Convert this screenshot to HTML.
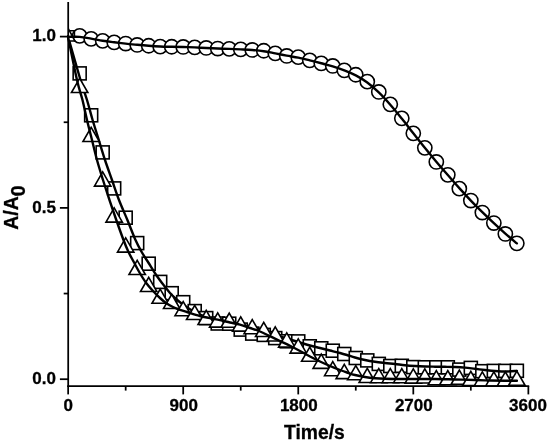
<!DOCTYPE html>
<html><head><meta charset="utf-8"><title>Time/s</title>
<style>html,body{margin:0;padding:0;background:#fff}svg{display:block}</style></head>
<body>
<svg width="550" height="444" viewBox="0 0 550 444">
<rect width="550" height="444" fill="#fff"/>
<defs><clipPath id="c"><rect x="68.15" y="0" width="482" height="400"/></clipPath></defs>
<g clip-path="url(#c)" fill="#fff" stroke="#000" stroke-width="1.60">
<circle cx="79.66" cy="35.85" r="7.10"/>
<circle cx="91.16" cy="38.85" r="7.10"/>
<circle cx="102.67" cy="40.85" r="7.10"/>
<circle cx="114.17" cy="42.35" r="7.10"/>
<circle cx="125.68" cy="43.55" r="7.10"/>
<circle cx="137.18" cy="44.95" r="7.10"/>
<circle cx="148.69" cy="45.75" r="7.10"/>
<circle cx="160.19" cy="46.65" r="7.10"/>
<circle cx="171.69" cy="46.75" r="7.10"/>
<circle cx="183.20" cy="46.95" r="7.10"/>
<circle cx="194.71" cy="47.35" r="7.10"/>
<circle cx="206.21" cy="47.95" r="7.10"/>
<circle cx="217.72" cy="48.55" r="7.10"/>
<circle cx="229.22" cy="48.85" r="7.10"/>
<circle cx="240.73" cy="49.35" r="7.10"/>
<circle cx="252.23" cy="49.95" r="7.10"/>
<circle cx="263.74" cy="50.75" r="7.10"/>
<circle cx="275.24" cy="53.35" r="7.10"/>
<circle cx="286.75" cy="55.95" r="7.10"/>
<circle cx="298.25" cy="57.15" r="7.10"/>
<circle cx="309.75" cy="60.35" r="7.10"/>
<circle cx="321.26" cy="63.35" r="7.10"/>
<circle cx="332.76" cy="65.95" r="7.10"/>
<circle cx="344.27" cy="70.35" r="7.10"/>
<circle cx="355.77" cy="74.75" r="7.10"/>
<circle cx="367.28" cy="81.65" r="7.10"/>
<circle cx="378.79" cy="91.95" r="7.10"/>
<circle cx="390.29" cy="104.35" r="7.10"/>
<circle cx="401.80" cy="118.35" r="7.10"/>
<circle cx="413.30" cy="133.35" r="7.10"/>
<circle cx="424.81" cy="147.85" r="7.10"/>
<circle cx="436.31" cy="161.95" r="7.10"/>
<circle cx="447.82" cy="174.85" r="7.10"/>
<circle cx="459.32" cy="188.65" r="7.10"/>
<circle cx="470.83" cy="200.55" r="7.10"/>
<circle cx="482.33" cy="212.55" r="7.10"/>
<circle cx="493.84" cy="223.05" r="7.10"/>
<circle cx="505.34" cy="233.95" r="7.10"/>
<circle cx="516.85" cy="243.35" r="7.10"/>
</g>
<g clip-path="url(#c)" fill="#fff" stroke="#000" stroke-width="1.60">
<path d="M68.15 30.7 H74.4 V36.5" fill="none"/>
<rect x="73.16" y="66.90" width="13.00" height="13.00"/>
<rect x="84.66" y="108.80" width="13.00" height="13.00"/>
<rect x="96.17" y="145.90" width="13.00" height="13.00"/>
<rect x="107.67" y="181.90" width="13.00" height="13.00"/>
<rect x="119.18" y="211.20" width="13.00" height="13.00"/>
<rect x="130.68" y="236.60" width="13.00" height="13.00"/>
<rect x="142.19" y="257.20" width="13.00" height="13.00"/>
<rect x="153.69" y="275.40" width="13.00" height="13.00"/>
<rect x="165.19" y="286.70" width="13.00" height="13.00"/>
<rect x="176.70" y="295.70" width="13.00" height="13.00"/>
<rect x="188.21" y="304.60" width="13.00" height="13.00"/>
<rect x="199.71" y="311.60" width="13.00" height="13.00"/>
<rect x="211.22" y="317.00" width="13.00" height="13.00"/>
<rect x="222.72" y="317.20" width="13.00" height="13.00"/>
<rect x="234.23" y="323.10" width="13.00" height="13.00"/>
<rect x="245.73" y="327.10" width="13.00" height="13.00"/>
<rect x="257.24" y="328.40" width="13.00" height="13.00"/>
<rect x="268.74" y="331.60" width="13.00" height="13.00"/>
<rect x="280.25" y="334.80" width="13.00" height="13.00"/>
<rect x="291.75" y="334.90" width="13.00" height="13.00"/>
<rect x="303.25" y="339.80" width="13.00" height="13.00"/>
<rect x="314.76" y="341.80" width="13.00" height="13.00"/>
<rect x="326.26" y="344.20" width="13.00" height="13.00"/>
<rect x="337.77" y="347.50" width="13.00" height="13.00"/>
<rect x="349.27" y="351.50" width="13.00" height="13.00"/>
<rect x="360.78" y="353.90" width="13.00" height="13.00"/>
<rect x="372.29" y="357.40" width="13.00" height="13.00"/>
<rect x="383.79" y="359.50" width="13.00" height="13.00"/>
<rect x="395.30" y="359.30" width="13.00" height="13.00"/>
<rect x="406.80" y="360.60" width="13.00" height="13.00"/>
<rect x="418.31" y="360.80" width="13.00" height="13.00"/>
<rect x="429.81" y="360.80" width="13.00" height="13.00"/>
<rect x="441.32" y="360.80" width="13.00" height="13.00"/>
<rect x="452.82" y="363.10" width="13.00" height="13.00"/>
<rect x="464.33" y="361.40" width="13.00" height="13.00"/>
<rect x="475.83" y="364.70" width="13.00" height="13.00"/>
<rect x="487.34" y="364.40" width="13.00" height="13.00"/>
<rect x="498.84" y="364.40" width="13.00" height="13.00"/>
<rect x="510.35" y="364.30" width="13.00" height="13.00"/>
</g>
<g fill="none" stroke="#000" stroke-width="2.40" stroke-linejoin="round" stroke-linecap="round"><path d="M68.00 36.50 C70.08 43.75 77.33 69.42 80.50 80.00 C83.67 90.58 84.98 93.33 87.00 100.00 C89.02 106.67 90.63 113.33 92.60 120.00 C94.57 126.67 96.73 133.33 98.80 140.00 C100.87 146.67 102.80 153.33 105.00 160.00 C107.20 166.67 109.67 173.33 112.00 180.00 C114.33 186.67 116.43 193.33 119.00 200.00 C121.57 206.67 124.65 213.33 127.40 220.00 C130.15 226.67 133.17 234.75 135.50 240.00 C137.83 245.25 139.27 247.75 141.40 251.50 C143.53 255.25 145.95 258.75 148.30 262.50 C150.65 266.25 153.22 270.58 155.50 274.00 C157.78 277.42 160.42 280.87 162.00 283.00 C163.58 285.13 163.67 285.13 165.00 286.80 C166.33 288.47 168.33 291.13 170.00 293.00 C171.67 294.87 173.33 296.45 175.00 298.00 C176.67 299.55 178.33 300.97 180.00 302.30 C181.67 303.63 183.33 304.83 185.00 306.00 C186.67 307.17 188.33 308.30 190.00 309.30 C191.67 310.30 193.33 311.13 195.00 312.00 C196.67 312.87 197.50 313.53 200.00 314.50 C202.50 315.47 206.67 316.85 210.00 317.80 C213.33 318.75 216.67 319.42 220.00 320.20 C223.33 320.98 226.67 321.75 230.00 322.50 C233.33 323.25 236.67 323.87 240.00 324.70 C243.33 325.53 246.67 326.53 250.00 327.50 C253.33 328.47 256.67 329.50 260.00 330.50 C263.33 331.50 266.67 332.50 270.00 333.50 C273.33 334.50 276.67 335.50 280.00 336.50 C283.33 337.50 286.67 338.50 290.00 339.50 C293.33 340.50 296.67 341.50 300.00 342.50 C303.33 343.50 306.67 344.58 310.00 345.50 C313.33 346.42 316.67 347.17 320.00 348.00 C323.33 348.83 326.67 349.67 330.00 350.50 C333.33 351.33 337.17 352.25 340.00 353.00 C342.83 353.75 344.50 354.25 347.00 355.00 C349.50 355.75 352.00 356.67 355.00 357.50 C358.00 358.33 361.67 359.28 365.00 360.00 C368.33 360.72 371.67 361.30 375.00 361.80 C378.33 362.30 381.67 362.63 385.00 363.00 C388.33 363.37 391.67 363.63 395.00 364.00 C398.33 364.37 401.67 364.87 405.00 365.20 C408.33 365.53 411.67 365.78 415.00 366.00 C418.33 366.22 421.67 366.38 425.00 366.50 C428.33 366.62 431.67 366.65 435.00 366.70 C438.33 366.75 441.67 366.75 445.00 366.80 C448.33 366.85 451.67 366.87 455.00 367.00 C458.33 367.13 461.67 367.30 465.00 367.60 C468.33 367.90 471.67 368.40 475.00 368.80 C478.33 369.20 481.67 369.63 485.00 370.00 C488.33 370.37 491.33 370.75 495.00 371.00 C498.67 371.25 503.35 371.52 507.00 371.50 C510.65 371.48 515.25 371.00 516.90 370.90"/></g>
<g clip-path="url(#c)" fill="#fff" stroke="#000" stroke-width="1.60">
<path d="M61.35 41.0 L74.95 41.0 L68.15 28.4 Z"/>
<path d="M71.45 92.50 L87.86 92.50 L79.66 78.30 Z"/>
<path d="M82.96 141.50 L99.36 141.50 L91.16 127.30 Z"/>
<path d="M94.47 186.10 L110.87 186.10 L102.67 171.90 Z"/>
<path d="M105.97 222.10 L122.37 222.10 L114.17 207.90 Z"/>
<path d="M117.48 252.10 L133.88 252.10 L125.68 237.90 Z"/>
<path d="M128.98 274.50 L145.38 274.50 L137.18 260.30 Z"/>
<path d="M140.49 291.50 L156.88 291.50 L148.69 277.30 Z"/>
<path d="M151.99 303.30 L168.39 303.30 L160.19 289.10 Z"/>
<path d="M163.50 308.50 L179.89 308.50 L171.69 294.30 Z"/>
<path d="M175.00 315.70 L191.40 315.70 L183.20 301.50 Z"/>
<path d="M186.51 319.50 L202.91 319.50 L194.71 305.30 Z"/>
<path d="M198.01 324.50 L214.41 324.50 L206.21 310.30 Z"/>
<path d="M209.52 327.10 L225.91 327.10 L217.72 312.90 Z"/>
<path d="M221.02 327.30 L237.42 327.30 L229.22 313.10 Z"/>
<path d="M232.53 331.10 L248.93 331.10 L240.73 316.90 Z"/>
<path d="M244.03 333.70 L260.43 333.70 L252.23 319.50 Z"/>
<path d="M255.54 336.50 L271.94 336.50 L263.74 322.30 Z"/>
<path d="M267.04 341.00 L283.44 341.00 L275.24 326.80 Z"/>
<path d="M278.55 347.10 L294.94 347.10 L286.75 332.90 Z"/>
<path d="M290.05 353.10 L306.45 353.10 L298.25 338.90 Z"/>
<path d="M301.56 361.30 L317.95 361.30 L309.75 347.10 Z"/>
<path d="M313.06 368.40 L329.46 368.40 L321.26 354.20 Z"/>
<path d="M324.56 375.70 L340.96 375.70 L332.76 361.50 Z"/>
<path d="M336.07 378.60 L352.47 378.60 L344.27 364.40 Z"/>
<path d="M347.57 379.70 L363.97 379.70 L355.77 365.50 Z"/>
<path d="M359.08 382.50 L375.48 382.50 L367.28 368.30 Z"/>
<path d="M370.59 382.70 L386.99 382.70 L378.79 368.50 Z"/>
<path d="M382.09 382.70 L398.49 382.70 L390.29 368.50 Z"/>
<path d="M393.60 382.70 L410.00 382.70 L401.80 368.50 Z"/>
<path d="M405.10 383.10 L421.50 383.10 L413.30 368.90 Z"/>
<path d="M416.61 383.00 L433.01 383.00 L424.81 368.80 Z"/>
<path d="M428.11 384.80 L444.51 384.80 L436.31 370.60 Z"/>
<path d="M439.62 384.80 L456.02 384.80 L447.82 370.60 Z"/>
<path d="M451.12 384.30 L467.52 384.30 L459.32 370.10 Z"/>
<path d="M462.63 385.50 L479.03 385.50 L470.83 371.30 Z"/>
<path d="M474.13 386.10 L490.53 386.10 L482.33 371.90 Z"/>
<path d="M485.64 386.10 L502.04 386.10 L493.84 371.90 Z"/>
<path d="M497.14 386.10 L513.54 386.10 L505.34 371.90 Z"/>
<path d="M508.65 385.30 L525.05 385.30 L516.85 371.10 Z"/>
</g>
<g fill="none" stroke="#000" stroke-width="2.40" stroke-linejoin="round" stroke-linecap="round"><path d="M68.00 36.50 C69.50 43.75 74.58 69.42 77.00 80.00 C79.42 90.58 80.83 93.33 82.50 100.00 C84.17 106.67 85.42 113.33 87.00 120.00 C88.58 126.67 90.33 133.33 92.00 140.00 C93.67 146.67 95.17 153.33 97.00 160.00 C98.83 166.67 100.92 173.33 103.00 180.00 C105.08 186.67 107.28 193.33 109.50 200.00 C111.72 206.67 113.97 213.33 116.30 220.00 C118.63 226.67 121.47 234.67 123.50 240.00 C125.53 245.33 126.78 248.33 128.50 252.00 C130.22 255.67 131.92 258.50 133.80 262.00 C135.68 265.50 137.73 269.50 139.80 273.00 C141.87 276.50 144.00 280.00 146.20 283.00 C148.40 286.00 150.70 288.50 153.00 291.00 C155.30 293.50 157.83 296.00 160.00 298.00 C162.17 300.00 163.83 301.50 166.00 303.00 C168.17 304.50 170.67 305.87 173.00 307.00 C175.33 308.13 177.67 308.97 180.00 309.80 C182.33 310.63 184.50 311.20 187.00 312.00 C189.50 312.80 192.83 313.93 195.00 314.60 C197.17 315.27 197.50 315.40 200.00 316.00 C202.50 316.60 206.67 317.50 210.00 318.20 C213.33 318.90 216.67 319.48 220.00 320.20 C223.33 320.92 226.67 321.75 230.00 322.50 C233.33 323.25 236.67 323.78 240.00 324.70 C243.33 325.62 246.67 326.87 250.00 328.00 C253.33 329.13 256.67 330.13 260.00 331.50 C263.33 332.87 266.67 334.62 270.00 336.20 C273.33 337.78 276.67 339.40 280.00 341.00 C283.33 342.60 286.67 344.13 290.00 345.80 C293.33 347.47 296.67 349.22 300.00 351.00 C303.33 352.78 306.67 354.75 310.00 356.50 C313.33 358.25 316.67 359.92 320.00 361.50 C323.33 363.08 326.67 364.58 330.00 366.00 C333.33 367.42 337.17 368.92 340.00 370.00 C342.83 371.08 344.50 371.67 347.00 372.50 C349.50 373.33 352.00 374.25 355.00 375.00 C358.00 375.75 361.67 376.47 365.00 377.00 C368.33 377.53 371.67 377.90 375.00 378.20 C378.33 378.50 380.83 378.67 385.00 378.80 C389.17 378.93 394.17 378.97 400.00 379.00 C405.83 379.03 414.17 379.00 420.00 379.00 C425.83 379.00 429.17 378.92 435.00 379.00 C440.83 379.08 448.33 379.33 455.00 379.50 C461.67 379.67 469.17 379.83 475.00 380.00 C480.83 380.17 485.00 380.38 490.00 380.50 C495.00 380.62 500.52 380.67 505.00 380.70 C509.48 380.73 514.92 380.70 516.90 380.70"/></g>
<g fill="none" stroke="#000" stroke-width="2.40" stroke-linejoin="round" stroke-linecap="round"><path d="M68.15 36.85 C70.07 36.85 75.82 36.56 79.66 36.85 C83.49 37.14 87.33 37.95 91.16 38.60 C95.00 39.25 98.83 40.11 102.67 40.73 C106.50 41.34 110.34 41.80 114.17 42.28 C118.01 42.75 121.84 43.18 125.68 43.60 C129.51 44.02 133.34 44.44 137.18 44.80 C141.02 45.16 144.85 45.50 148.69 45.77 C152.52 46.05 156.35 46.28 160.19 46.45 C164.03 46.62 167.86 46.68 171.69 46.78 C175.53 46.87 179.37 46.90 183.20 47.00 C187.04 47.10 190.87 47.24 194.71 47.40 C198.54 47.56 202.38 47.77 206.21 47.95 C210.05 48.13 213.88 48.32 217.72 48.48 C221.55 48.63 225.39 48.75 229.22 48.90 C233.06 49.05 236.89 49.19 240.73 49.38 C244.56 49.56 248.40 49.70 252.23 50.00 C256.06 50.30 259.90 50.64 263.74 51.20 C267.57 51.76 271.41 52.62 275.24 53.35 C279.07 54.08 282.91 54.88 286.75 55.60 C290.58 56.32 294.42 56.87 298.25 57.65 C302.08 58.43 305.92 59.37 309.75 60.30 C313.59 61.23 317.43 62.23 321.26 63.25 C325.09 64.27 328.93 65.22 332.76 66.40 C336.60 67.58 340.44 68.85 344.27 70.35 C348.10 71.85 351.94 73.35 355.77 75.38 C359.61 77.40 363.44 79.65 367.28 82.50 C371.12 85.35 374.95 88.77 378.79 92.47 C382.62 96.18 386.46 100.40 390.29 104.75 C394.13 109.10 397.96 113.85 401.80 118.60 C405.63 123.35 409.47 128.37 413.30 133.22 C417.14 138.08 420.97 143.01 424.81 147.75 C428.64 152.49 432.48 157.10 436.31 161.65 C440.15 166.20 443.98 170.65 447.82 175.07 C451.65 179.50 455.49 183.92 459.32 188.17 C463.16 192.42 466.99 196.57 470.83 200.57 C474.66 204.57 478.50 208.41 482.33 212.17 C486.17 215.94 490.00 219.58 493.84 223.15 C497.67 226.72 501.51 230.21 505.34 233.57 C509.18 236.94 514.93 241.72 516.85 243.35"/></g>
<g stroke="#000" stroke-width="1.75" fill="none">
<path d="M68.2 2 V387.1"/>
<path d="M67.2 386.1 H529.2"/>
<path d="M59.9 379.20 H68.2"/>
<path d="M63.7 293.55 H68.2"/>
<path d="M59.9 207.90 H68.2"/>
<path d="M63.7 122.25 H68.2"/>
<path d="M59.9 36.60 H68.2"/>
<path d="M68.15 386.1 V394.4"/>
<path d="M125.68 386.1 V390.6"/>
<path d="M183.20 386.1 V394.4"/>
<path d="M240.73 386.1 V390.6"/>
<path d="M298.25 386.1 V394.4"/>
<path d="M355.77 386.1 V390.6"/>
<path d="M413.30 386.1 V394.4"/>
<path d="M470.83 386.1 V390.6"/>
<path d="M528.35 386.1 V394.4"/>
</g>
<g font-family="'Liberation Sans', sans-serif" font-weight="bold" fill="#000" stroke="#000" stroke-width="0.3">
<g font-size="17">
<text x="56" y="41.3" text-anchor="end">1.0</text>
<text x="56" y="212.6" text-anchor="end">0.5</text>
<text x="56" y="383.9" text-anchor="end">0.0</text>
<text x="68.2" y="411.2" text-anchor="middle">0</text>
<text x="183.7" y="411.2" text-anchor="middle">900</text>
<text x="298.8" y="411.2" text-anchor="middle">1800</text>
<text x="413.8" y="411.2" text-anchor="middle">2700</text>
<text x="528.0" y="411.2" text-anchor="middle">3600</text>
</g>
<text x="284" y="439" font-size="19.3">Time/s</text>
<text transform="translate(17.8 229.8) rotate(-90)" font-size="19.5">A/A<tspan dy="7.6">0</tspan></text>
</g>
</svg>
</body></html>
